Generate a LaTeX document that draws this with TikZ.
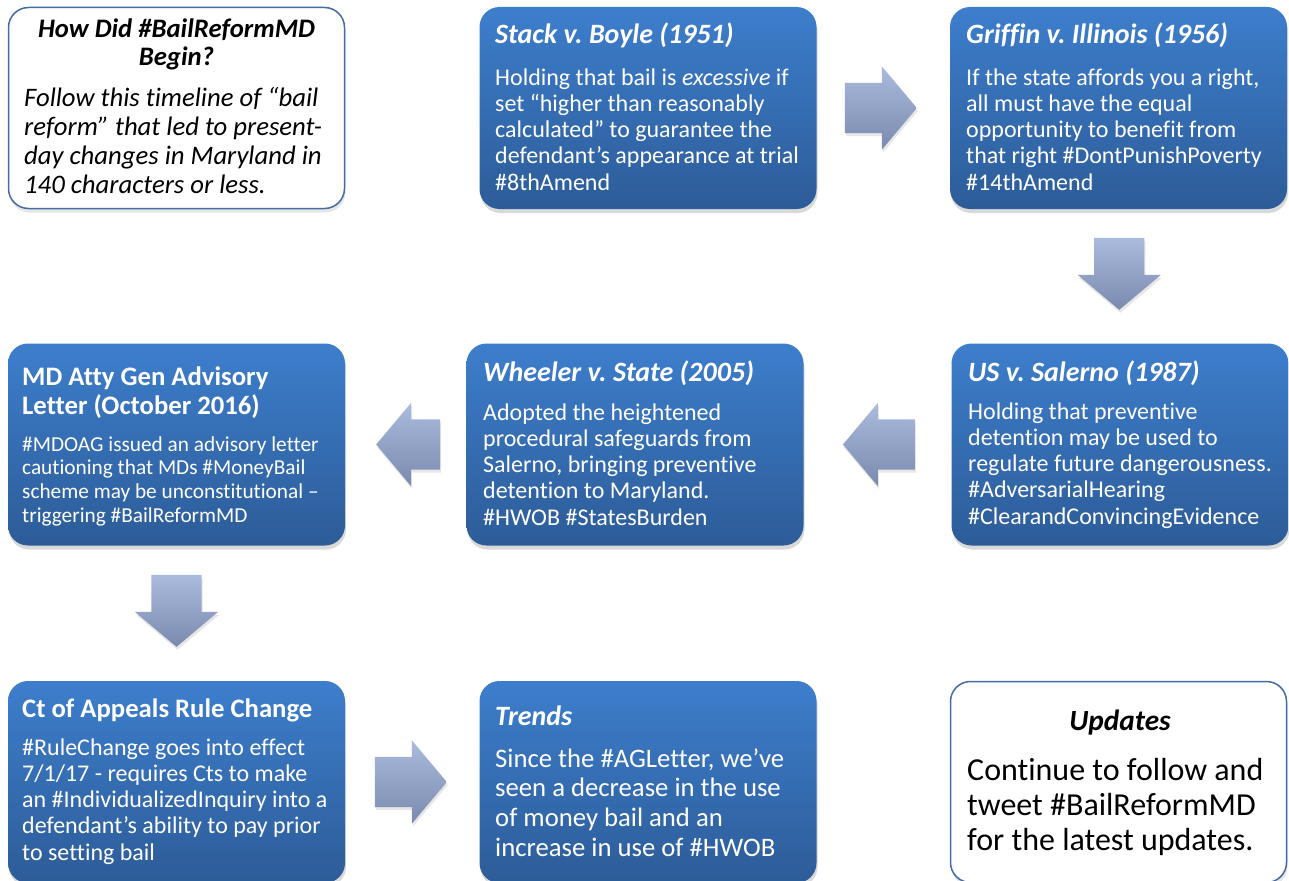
\documentclass[tikz,border=0pt]{standalone}
\usepackage{fontspec}
\setmainfont{Carlito}[Ligatures={TeX,NoCommon}]
\usetikzlibrary{shapes.arrows, shadows, calc}

\definecolor{cardtop}{RGB}{61,126,204}
\definecolor{cardbot}{RGB}{45,92,152}
\definecolor{arrtop}{RGB}{170,187,222}
\definecolor{arrbot}{RGB}{122,138,174}
\definecolor{noteline}{RGB}{68,108,162}

\newcommand{\fs}[2]{\fontsize{#1}{#2}\selectfont}
\newcommand{\topline}{\rule{0pt}{30pt}}
\frenchspacing

\begin{document}
\begin{tikzpicture}[x=1pt, y=-1pt,
    card/.style={rectangle, rounded corners=20pt, minimum width=337pt, minimum height=202pt,
      top color=cardtop, bottom color=cardbot,
      drop shadow={shadow xshift=1pt, shadow yshift=-4pt, opacity=0.3}},
    notecard/.style={rectangle, rounded corners=20pt, minimum width=336pt, minimum height=201pt,
      draw=noteline, line width=1.5pt, fill=white,
      drop shadow={shadow xshift=1pt, shadow yshift=-4pt, opacity=0.2}},
    cardtitle/.style={anchor=base west, inner sep=0pt, text=white, font=\fs{28}{30}\bfseries\itshape},
    cardbody/.style={anchor=north west, inner sep=0pt, text=white, align=left, font=\fs{24}{26.2}},
    flow/.style={single arrow, minimum height=72pt,
      single arrow head extend=16.5pt, single arrow tip angle=100,
      top color=arrtop, bottom color=arrbot,
      drop shadow={shadow xshift=1pt, shadow yshift=-3pt, opacity=0.2}},
    flowh/.style={flow, inner xsep=0pt, inner ysep=25pt},
    flowv/.style={flow, inner xsep=25pt, inner ysep=0pt, shape border rotate=270}]

  \useasboundingbox (0,0) rectangle (1289,880);

  \node[notecard] (intro) at (176.5,108) {};
  \node[card] (stack) at (648,108) {};
  \node[card] (griffin) at (1118.5,108) {};
  \node[card] (md) at (176.5,444.5) {};
  \node[card] (wheeler) at (635,444.5) {};
  \node[card] (salerno) at (1120,444.5) {};
  \node[card] (ct) at (176.5,782) {};
  \node[card] (trends) at (648,782) {};
  \node[notecard] (updates) at (1118.5,782) {};

  \node[flowh, xshift=-13pt] (a1) at ($(stack.east)!0.5!(griffin.west)$) {};
  \node[flowv, yshift=13pt] (a2) at ($(griffin.south)!0.5!(salerno.north)$) {};
  \node[flowh, shape border rotate=180, xshift=12pt] (a3) at ($(salerno.west)!0.5!(wheeler.east)$) {};
  \node[flowh, shape border rotate=180, minimum height=64pt, xshift=13pt] (a4) at ($(wheeler.west)!0.5!(md.east)$) {};
  \node[flowv, yshift=13pt] (a5) at ($(md.south)!0.5!(ct.north)$) {};
  \node[flowh, xshift=-12pt] (a6) at ($(ct.east)!0.5!(trends.west)$) {};

  \node[anchor=north, inner sep=0pt, align=center, font=\fs{26.7}{28.5}\bfseries\itshape] (intro-t) at (176.5,7)
    {\topline How Did \#BailReformMD\\Begin?};
  \node[anchor=north west, inner sep=0pt, align=left, font=\fs{26.7}{29}\itshape] (intro-b) at (24,76)
    {\topline Follow this timeline of ``bail\\
     reform'' that led to present-\\
     day changes in Maryland in\\
     140 characters or less.};

  \node[cardtitle] (stack-t) at (495,44) {Stack v. Boyle (1951)};
  \node[cardbody] (stack-b) at (495,55)
    {\topline Holding that bail is \textit{excessive} if\\
     set ``higher than reasonably\\
     calculated'' to guarantee the\\
     defendant's appearance at trial\\
     \#8thAmend};

  \node[cardtitle] (griffin-t) at (966,44) {Griffin v. Illinois (1956)};
  \node[cardbody] (griffin-b) at (966,55)
    {\topline If the state affords you a right,\\
     all must have the equal\\
     opportunity to benefit from\\
     that right \#DontPunishPoverty\\
     \#14thAmend};

  \node[cardtitle] (salerno-t) at (968,381) {US v. Salerno (1987)};
  \node[cardbody] (salerno-b) at (968,389)
    {\topline Holding that preventive\\
     detention may be used to\\
     regulate future dangerousness.\\
     \#AdversarialHearing\\
     \#ClearandConvincingEvidence};

  \node[cardtitle] (wheeler-t) at (483,381) {Wheeler v. State (2005)};
  \node[cardbody] (wheeler-b) at (483,390)
    {\topline Adopted the heightened\\
     procedural safeguards from\\
     Salerno, bringing preventive\\
     detention to Maryland.\\
     \#HWOB \#StatesBurden};

  \node[cardbody, font=\fs{26.7}{29.3}\bfseries] (md-t) at (22,355)
    {\topline MD Atty Gen Advisory\\Letter (October 2016)};
  \node[cardbody, font=\fs{21.3}{23.6}] (md-b) at (22,421)
    {\topline \#MDOAG issued an advisory letter\\
     cautioning that MDs \#MoneyBail\\
     scheme may be unconstitutional --\\
     triggering \#BailReformMD};

  \node[cardtitle, font=\fs{26.7}{29.3}\bfseries] (ct-t) at (22,717) {Ct of Appeals Rule Change};
  \node[cardbody] (ct-b) at (22,725)
    {\topline \#RuleChange goes into effect\\
     7/1/17 - requires Cts to make\\
     an \#IndividualizedInquiry into a\\
     defendant's ability to pay prior\\
     to setting bail};

  \node[cardtitle] (trends-t) at (495,725) {Trends};
  \node[cardbody, font=\fs{26.7}{29.7}] (trends-b) at (495,737)
    {\topline Since the \#AGLetter, we've\\
     seen a decrease in the use\\
     of money bail and an\\
     increase in use of \#HWOB};

  \node[anchor=base, inner sep=0pt, font=\fs{29.3}{32}\bfseries\itshape] (updates-t) at (1120,730) {Updates};
  \node[anchor=north west, inner sep=0pt, align=left, font=\fs{32}{35}] (updates-b) at (967,750)
    {\topline Continue to follow and\\
     tweet \#BailReformMD\\
     for the latest updates.};
\end{tikzpicture}
\end{document}
